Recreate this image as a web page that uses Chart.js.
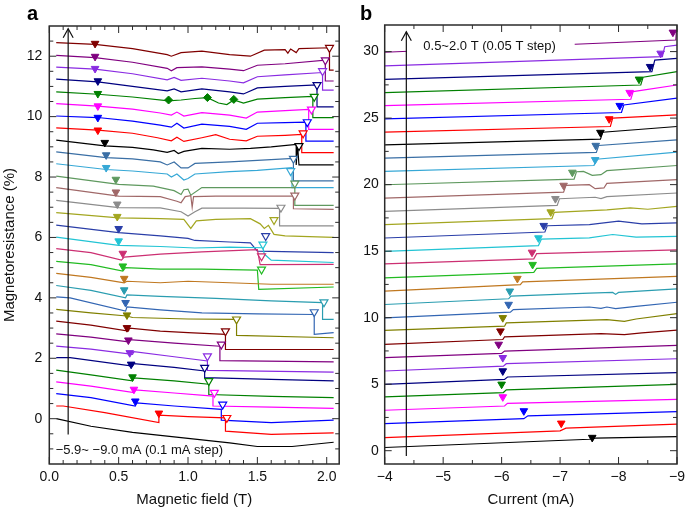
<!DOCTYPE html>
<html>
<head>
<meta charset="utf-8">
<script src="https://cdn.jsdelivr.net/npm/chart.js@4.4.1/dist/chart.umd.min.js"></script>
<style>
  body { margin: 0; background: #fff; width: 685px; height: 508px; overflow: hidden; position: relative; }
  canvas { position: absolute; top: 0; }
  #chartA { left: 0; }
  #chartB { left: 345px; }
</style>
</head>
<body>
<canvas id="chartA" width="345" height="508"></canvas>
<canvas id="chartB" width="340" height="508"></canvas>
<script>
// colour order used for the curves (repeats after 23)
var palette = ['#000000', '#ff0000', '#0000ff', '#ff00ff', '#008000', '#000080', '#8a2be2', '#800080',
  '#800000', '#808000', '#3366b3', '#2a9db0', '#c07820', '#22bb22', '#cc2f72', '#22c4d4', '#2a3ea8',
  '#a3a620', '#8c8c8c', '#a06868', '#5f995f', '#36a8d6', '#3a6fa5'];

// ---- panel a: field sweeps, -5.9 ... -9.0 mA, curves offset by 0.4 %
var fieldTicksA = [0, 0.5, 1, 1.5, 2];
var fieldMinorA = [0.1, 0.2, 0.3, 0.4, 0.6, 0.7, 0.8, 0.9, 1.1, 1.2, 1.3, 1.4, 1.6, 1.7, 1.8, 1.9];
var mrTicksA = [0, 2, 4, 6, 8, 10, 12];
var mrMinorA = [-1, -0.5, 0.5, 1, 1.5, 2.5, 3, 3.5, 4.5, 5, 5.5, 6.5, 7, 7.5, 8.5, 9, 9.5, 10.5, 11, 11.5, 12.5];

var curvesA = [
  [[0.05,0.0],[0.3,-0.25],[0.6,-0.45],[1.0,-0.65],[1.3,-0.8],[1.5,-0.92],[1.75,-0.92],[2.05,-0.78]],
  [[0.05,0.42],[0.1,0.42],[0.4,0.2],[0.79,-0.13],[0.79,0.12],[1.0,0.07],[1.27,0.03],[1.27,-0.41],[1.6,-0.52],[2.05,-0.47]],
  [[0.05,0.83],[0.3,0.7],[0.62,0.42],[0.63,0.52],[0.9,0.42],[1.24,0.31],[1.24,-0.05],[1.6,-0.13],[2.05,-0.05]],
  [[0.05,1.22],[0.3,1.08],[0.61,0.86],[0.62,0.95],[0.9,0.85],[1.18,0.75],[1.18,0.42],[1.6,0.38],[2.05,0.34]],
  [[0.05,1.61],[0.3,1.45],[0.6,1.25],[0.61,1.35],[0.9,1.25],[1.15,1.14],[1.15,0.8],[1.6,0.74],[2.05,0.7]],
  [[0.05,2.02],[0.15,2.02],[0.6,1.74],[0.61,1.82],[0.9,1.7],[1.12,1.58],[1.12,1.36],[1.6,1.3],[2.05,1.25]],
  [[0.05,2.4],[0.3,2.3],[0.6,2.13],[0.61,2.22],[0.9,2.05],[1.14,1.91],[1.14,1.6],[2.05,1.54]],
  [[0.05,2.81],[0.3,2.7],[0.57,2.54],[0.58,2.62],[0.9,2.5],[1.23,2.4],[1.23,1.92],[2.05,1.88]],
  [[0.05,3.23],[0.3,3.1],[0.57,2.9],[0.58,3.0],[0.8,2.9],[1.0,2.85],[1.27,2.79],[1.27,2.29],[2.05,2.29]],
  [[0.05,3.62],[0.3,3.5],[0.56,3.4],[0.6,3.35],[1.0,3.3],[1.35,3.29],[1.35,2.76],[2.05,2.68]],
  [[0.05,4.03],[0.15,4.0],[0.55,3.56],[0.56,3.7],[0.8,3.6],[1.1,3.5],[1.5,3.47],[1.91,3.45],[1.91,2.79],[2.05,2.85]],
  [[0.05,4.41],[0.3,4.25],[0.55,4.0],[0.56,4.1],[0.8,4.05],[1.2,3.98],[1.6,3.9],[1.97,3.84],[1.97,3.29],[2.05,3.29]],
  [[0.05,4.81],[0.3,4.68],[0.54,4.5],[0.56,4.55],[0.8,4.5],[1.0,4.55],[1.3,4.5],[1.6,4.45],[2.05,4.45]],
  [[0.05,5.21],[0.3,5.1],[0.53,4.89],[0.55,5.0],[0.8,4.95],[1.1,4.95],[1.5,4.92],[1.51,4.28],[2.05,4.36]],
  [[0.05,5.63],[0.3,5.5],[0.52,5.25],[0.54,5.35],[0.8,5.45],[1.1,5.52],[1.5,5.6],[1.52,5.1],[2.05,5.11]],
  [[0.05,6.01],[0.5,5.74],[0.8,5.7],[1.05,5.65],[1.3,5.68],[1.54,5.66],[1.55,5.45],[1.6,5.25],[2.05,5.17]],
  [[0.05,6.41],[0.5,6.16],[0.8,6.05],[1.0,5.97],[1.05,5.9],[1.3,5.85],[1.45,5.82],[1.5,5.55],[2.05,5.5]],
  [[0.05,6.82],[0.5,6.65],[0.8,6.62],[0.97,6.6],[1.02,6.3],[1.06,6.55],[1.2,6.6],[1.45,6.62],[1.52,6.45],[1.55,6.3],[1.58,6.4],[1.62,6.1],[1.7,6.05],[2.05,6.0]],
  [[0.05,7.23],[0.5,6.99],[0.8,6.98],[0.95,6.85],[1.0,6.71],[1.05,6.85],[1.1,6.97],[1.4,6.97],[1.66,6.96],[1.66,6.38],[2.05,6.38]],
  [[0.05,7.65],[0.5,7.37],[0.8,7.35],[0.92,7.2],[0.95,7.15],[0.98,7.35],[1.02,7.38],[1.03,7.0],[1.04,7.35],[1.2,7.37],[1.5,7.37],[1.76,7.37],[1.76,6.95],[2.05,6.93]],
  [[0.05,8.03],[0.5,7.76],[0.75,7.7],[0.9,7.55],[0.95,7.42],[0.97,7.58],[1.0,7.6],[1.02,7.4],[1.1,7.65],[1.5,7.65],[1.77,7.65],[1.77,7.06],[2.05,7.06]],
  [[0.05,8.44],[0.41,8.25],[0.6,8.2],[0.85,8.1],[0.88,8.0],[0.92,8.1],[0.97,7.9],[1.0,7.95],[1.05,8.1],[1.3,8.18],[1.5,8.22],[1.75,8.31],[1.75,7.65],[2.05,7.65]],
  [[0.05,8.83],[0.41,8.64],[0.6,8.6],[0.8,8.5],[0.85,8.4],[0.9,8.5],[0.95,8.3],[1.0,8.3],[1.05,8.45],[1.3,8.5],[1.5,8.55],[1.76,8.62],[1.76,7.87],[2.05,7.87]],
  [[0.05,9.22],[0.4,9.03],[0.6,8.98],[0.75,8.9],[0.85,8.82],[0.9,8.88],[0.93,8.78],[0.97,8.85],[1.1,8.95],[1.3,8.92],[1.45,8.95],[1.6,9.0],[1.78,9.08],[1.78,8.4],[1.79,9.05],[1.8,8.4],[2.05,8.4]],
  [[0.05,9.63],[0.35,9.55],[0.6,9.45],[0.78,9.3],[0.88,9.2],[0.92,9.32],[0.97,9.18],[1.1,9.3],[1.2,9.4],[1.3,9.25],[1.42,9.2],[1.5,9.35],[1.7,9.38],[1.82,9.41],[1.82,8.81],[2.05,8.81]],
  [[0.05,10.02],[0.35,9.97],[0.6,9.85],[0.8,9.72],[0.88,9.65],[0.92,9.78],[0.97,9.62],[1.1,9.75],[1.3,9.68],[1.42,9.58],[1.5,9.78],[1.7,9.8],[1.85,9.82],[1.85,9.19],[2.05,9.19]],
  [[0.05,10.43],[0.35,10.35],[0.6,10.25],[0.8,10.12],[0.88,10.05],[0.92,10.15],[0.97,10.02],[1.1,10.13],[1.3,10.05],[1.42,9.95],[1.5,10.15],[1.7,10.2],[1.87,10.24],[1.87,9.58],[2.05,9.58]],
  [[0.05,10.82],[0.35,10.74],[0.6,10.65],[0.86,10.52],[0.95,10.55],[1.05,10.6],[1.14,10.63],[1.22,10.45],[1.28,10.4],[1.33,10.55],[1.4,10.45],[1.5,10.58],[1.7,10.63],[1.9,10.67],[1.9,9.97],[2.05,9.97]],
  [[0.05,11.24],[0.35,11.15],[0.6,11.0],[0.85,10.85],[0.9,10.92],[0.95,10.82],[1.1,10.92],[1.3,10.82],[1.4,10.75],[1.5,10.95],[1.7,11.0],[1.93,11.05],[1.93,10.32],[2.05,10.32]],
  [[0.05,11.64],[0.33,11.57],[0.6,11.42],[0.85,11.22],[0.9,11.3],[0.95,11.2],[1.1,11.27],[1.3,11.18],[1.4,11.12],[1.5,11.32],[1.7,11.38],[1.97,11.46],[1.97,10.88],[2.05,10.88]],
  [[0.05,12.03],[0.33,11.95],[0.6,11.8],[0.85,11.6],[0.88,11.52],[0.92,11.62],[1.1,11.65],[1.3,11.57],[1.4,11.52],[1.5,11.7],[1.7,11.75],[1.99,11.87],[1.99,11.18],[2.05,11.18]],
  [[0.05,12.45],[0.33,12.39],[0.6,12.25],[0.85,12.05],[0.88,12.0],[0.95,12.12],[1.1,12.17],[1.3,12.05],[1.45,12.0],[1.55,12.2],[1.7,12.22],[1.72,12.1],[1.74,12.24],[1.78,12.12],[1.8,12.25],[2.02,12.28],[2.02,11.54],[2.05,11.54]]
];
// filled / open triangle markers, one per curve (null = none)
var fillTriA = [null,[0.79,0.18],[0.62,0.58],[0.61,0.97],[0.6,1.38],[0.59,1.8],[0.58,2.18],[0.57,2.6],[0.56,3.01],
  [0.56,3.43],[0.55,3.84],[0.54,4.26],[0.54,4.64],[0.53,5.05],[0.53,5.47],[0.5,5.88],[0.5,6.29],[0.49,6.69],
  [0.49,7.1],[0.48,7.5],[0.48,7.92],[0.41,8.31],[0.41,8.73],[0.4,9.14],[0.35,9.55],[0.35,9.97],[0.35,10.35],
  [0.35,10.76],[0.35,11.18],[0.33,11.59],[0.33,11.99],[0.33,12.42]];
var openTriA = [null,[1.28,0.03],[1.25,0.47],[1.19,0.86],[1.15,1.25],[1.12,1.69],[1.14,2.07],[1.24,2.46],[1.27,2.9],
  [1.35,3.29],[1.91,3.53],[1.98,3.86],null,[1.53,4.94],[1.53,5.38],[1.54,5.77],[1.56,6.05],[1.62,6.58],
  [1.67,6.99],[1.77,7.39],[1.77,7.79],[1.74,8.2],[1.76,8.61],[1.8,9.03],[1.83,9.45],[1.86,9.82],[1.89,10.24],
  [1.91,10.66],[1.93,11.05],[1.97,11.51],[1.99,11.87],[2.02,12.28]];
var diamondsA = [[0.86,10.55],[1.14,10.63],[1.33,10.57]];

// ---- panel b: current sweeps, 0.5 ... 2.0 T, curves offset by 1 %
var currentTicksB = [-9, -8, -7, -6, -5, -4];
var currentMinorB = [-8.5, -7.5, -6.5, -5.5, -4.5];
var mrTicksB = [0, 5, 10, 15, 20, 25, 30];
var mrMinorB = [2.5, 7.5, 12.5, 17.5, 22.5, 27.5];

var curvesB = [
  [[-4,0.24],[-7.5,0.86],[-7.6,0.95],[-9,1.06]],
  [[-4,0.99],[-7.0,1.49],[-7.1,1.69],[-9,1.99]],
  [[-4,2.04],[-6.38,2.41],[-6.45,2.62],[-9,2.94]],
  [[-4,3.04],[-6.05,3.36],[-6.1,3.56],[-9,3.86]],
  [[-4,4.04],[-6.03,4.37],[-6.08,4.57],[-9,4.99]],
  [[-4,4.99],[-6.05,5.36],[-6.1,5.54],[-9,5.87]],
  [[-4,5.99],[-6.03,6.36],[-6.08,6.54],[-9,6.91]],
  [[-4,6.99],[-6.0,7.31],[-6.05,7.49],[-9,7.91]],
  [[-4,7.99],[-6.02,8.36],[-6.05,8.56],[-7.7,8.8],[-8.1,8.72],[-8.4,8.85],[-9,9.06]],
  [[-4,9.04],[-6.05,9.36],[-6.08,9.61],[-7.8,9.85],[-8.1,9.72],[-8.3,9.9],[-9,10.31]],
  [[-4,9.99],[-6.15,10.41],[-6.2,10.61],[-7.5,10.8],[-7.7,10.7],[-7.8,10.8],[-7.95,10.68],[-8.3,10.85],[-9,11.16]],
  [[-4,10.99],[-6.12,11.42],[-6.16,11.62],[-7.5,11.85],[-7.9,11.9],[-7.95,11.75],[-8.0,11.9],[-9,12.17]],
  [[-4,11.99],[-6.32,12.49],[-6.36,12.69],[-9,13.11]],
  [[-4,12.99],[-6.55,13.41],[-6.6,13.71],[-9,14.04]],
  [[-4,14.04],[-6.55,14.42],[-6.6,14.81],[-9,15.1]],
  [[-4,14.99],[-6.63,15.42],[-6.68,15.9],[-7.5,16.0],[-7.9,16.25],[-8.3,16.05],[-9,16.11]],
  [[-4,15.99],[-6.74,16.44],[-6.78,16.91],[-7.5,17.0],[-8.0,17.25],[-8.4,17.05],[-9,17.12]],
  [[-4,16.99],[-6.86,17.44],[-6.9,17.91],[-7.8,18.1],[-8.2,18.25],[-8.5,18.15],[-9,18.36]],
  [[-4,17.99],[-6.95,18.44],[-6.99,18.94],[-7.6,19.05],[-7.7,18.95],[-7.8,19.1],[-9,19.37]],
  [[-4,18.99],[-7.06,19.44],[-7.1,19.94],[-7.5,20.0],[-7.6,19.7],[-7.75,19.75],[-7.8,20.1],[-9,20.37]],
  [[-4,19.99],[-7.24,20.42],[-7.28,20.97],[-7.4,21.0],[-7.55,20.7],[-7.7,20.75],[-7.8,21.05],[-9,21.44]],
  [[-4,20.99],[-7.58,21.44],[-7.62,21.91],[-9,22.44]],
  [[-4,21.99],[-7.62,22.42],[-7.66,22.94],[-9,23.37]],
  [[-4,22.99],[-7.69,23.42],[-7.73,23.94],[-9,24.37]],
  [[-4,23.94],[-7.86,24.37],[-7.9,25.0],[-9,25.24]],
  [[-4,24.94],[-8.05,25.42],[-8.09,25.99],[-9,26.5]],
  [[-4,25.94],[-8.21,26.42],[-8.25,26.99],[-9,27.49]],
  [[-4,26.92],[-8.38,27.49],[-8.42,28.07],[-9,28.49]],
  [[-4,27.92],[-8.57,28.49],[-8.62,29.36],[-9,29.49]],
  [[-4,28.92],[-8.75,29.62],[-8.79,30.37],[-9,30.49]],
  [[-4,29.95],[-8.98,30.87],[-8.99,31.57]]
];
var fillTriB = [[-7.55,0.99],[-7.02,2.06],[-6.38,2.99],[-6.02,4.04],[-6.0,4.99],[-6.02,5.99],[-6.02,6.99],
  [-5.95,7.99],[-5.98,8.99],[-6.02,9.99],[-6.12,10.99],[-6.14,11.99],[-6.27,12.94],[-6.53,13.99],[-6.52,14.91],
  [-6.63,15.99],[-6.72,16.92],[-6.84,17.94],[-6.92,18.94],[-7.06,19.94],[-7.21,20.92],[-7.6,21.87],[-7.61,22.94],
  [-7.69,23.92],[-7.84,24.94],[-8.02,25.94],[-8.19,26.92],[-8.35,27.92],[-8.54,28.87],[-8.72,29.87],[-8.93,31.45]];

function toPts(list) {
  return list.map(function (p) { return { x: p[0], y: p[1] }; });
}

function makeDatasets(curves, fills, opens, diamonds) {
  var ds = [];
  var fp = [], fc = [], op = [], oc = [];
  fills.forEach(function (p, i) {
    if (p) { fp.push({ x: p[0], y: p[1] }); fc.push(palette[i % palette.length]); }
  });
  (opens || []).forEach(function (p, i) {
    if (p) { op.push({ x: p[0], y: p[1] }); oc.push(palette[i % palette.length]); }
  });
  // markers first so they end up drawn on top of the curves
  if (diamonds) {
    ds.push({ data: toPts(diamonds), showLine: false, pointStyle: 'rectRot', pointRadius: 4,
      pointBackgroundColor: palette[4], pointBorderColor: palette[4], pointBorderWidth: 1 });
  }
  ds.push({ data: fp, showLine: false, pointStyle: 'triangle', pointRotation: 180, pointRadius: 4.4,
    pointBackgroundColor: fc, pointBorderColor: fc, pointBorderWidth: 1 });
  if (op.length) {
    ds.push({ data: op, showLine: false, pointStyle: 'triangle', pointRotation: 180, pointRadius: 4.6,
      pointBackgroundColor: '#ffffff', pointBorderColor: oc, pointBorderWidth: 1.2 });
  }
  curves.forEach(function (c, i) {
    ds.push({ data: toPts(c), showLine: true, borderColor: palette[i % palette.length], borderWidth: 1.2,
      pointRadius: 0, tension: 0, fill: false });
  });
  return ds;
}

// frame with inward ticks on all four sides, arrow, note and panel letter
function decorations(cfg) {
  return {
    id: 'decor',
    afterDatasetsDraw: function (chart) {
      var ctx = chart.ctx, a = chart.chartArea, sx = chart.scales.x, sy = chart.scales.y;
      ctx.save();
      function line(x0, y0, x1, y1) { ctx.beginPath(); ctx.moveTo(x0, y0); ctx.lineTo(x1, y1); ctx.stroke(); }

      if (cfg.noteBox) {
        var b = cfg.noteBox;
        var bx0 = sx.getPixelForValue(b[0]), bx1 = sx.getPixelForValue(b[1]);
        var by0 = sy.getPixelForValue(b[2]), by1 = sy.getPixelForValue(b[3]);
        ctx.fillStyle = '#ffffff';
        ctx.fillRect(Math.min(bx0, bx1), Math.min(by0, by1), Math.abs(bx1 - bx0), Math.abs(by1 - by0));
      }
      ctx.fillStyle = '#111';
      ctx.font = "13px 'Liberation Sans', Arial, sans-serif";
      ctx.textAlign = 'left';
      ctx.textBaseline = 'middle';
      ctx.fillText(cfg.note.text, sx.getPixelForValue(cfg.note.x), sy.getPixelForValue(cfg.note.y));

      // arrow
      ctx.strokeStyle = '#111';
      ctx.lineWidth = 1.2;
      var ax = sx.getPixelForValue(cfg.arrow.x);
      var ay0 = sy.getPixelForValue(cfg.arrow.y0), ay1 = sy.getPixelForValue(cfg.arrow.y1);
      line(ax, ay0, ax, ay1);
      ctx.beginPath();
      ctx.moveTo(ax - 5, ay1 + 9); ctx.lineTo(ax, ay1); ctx.lineTo(ax + 5, ay1 + 9);
      ctx.stroke();

      // frame and ticks
      ctx.strokeStyle = '#2b2b2b';
      ctx.lineWidth = 1;
      function xt(list, len) {
        list.forEach(function (v) {
          var p = sx.getPixelForValue(v);
          line(p, a.bottom, p, a.bottom - len);
          line(p, a.top, p, a.top + len);
        });
      }
      function yt(list, len) {
        list.forEach(function (v) {
          var p = sy.getPixelForValue(v);
          line(a.left, p, a.left + len, p);
          line(a.right, p, a.right - len, p);
        });
      }
      xt(cfg.xMajor, 7); xt(cfg.xMinor, 4);
      yt(cfg.yMajor, 7); yt(cfg.yMinor, 4);
      ctx.lineWidth = 1.5;
      ctx.strokeRect(a.left, a.top, a.right - a.left, a.bottom - a.top);

      ctx.fillStyle = '#000';
      ctx.font = "bold 20px 'Liberation Sans', Arial, sans-serif";
      ctx.textBaseline = 'alphabetic';
      ctx.fillText(cfg.letter, cfg.letterX, 19.5);
      ctx.restore();
    }
  };
}

Chart.defaults.font.family = "'Liberation Sans', Arial, Helvetica, sans-serif";
Chart.defaults.color = '#111';

function axisX(min, max, ticks, fmt, title, reverse) {
  return {
    type: 'linear', min: min, max: max, reverse: !!reverse,
    border: { display: false }, grid: { display: false, drawTicks: false },
    afterBuildTicks: function (s) { s.ticks = ticks.map(function (v) { return { value: v }; }); },
    afterFit: function (s) { s.height = 44; },
    ticks: { padding: 5, font: { size: 14 }, color: '#111', maxRotation: 0, autoSkip: false, callback: fmt },
    title: { display: true, text: title, font: { size: 15 }, color: '#111', padding: { top: 0, bottom: -1 } }
  };
}
function axisY(min, max, ticks, width, pad, title) {
  return {
    type: 'linear', min: min, max: max,
    border: { display: false }, grid: { display: false, drawTicks: false },
    afterBuildTicks: function (s) { s.ticks = ticks.map(function (v) { return { value: v }; }); },
    afterFit: function (s) { s.width = width; },
    ticks: { padding: pad, font: { size: 14 }, color: '#111', autoSkip: false, callback: function (v) { return String(v); } },
    title: { display: !!title, text: title || '', font: { size: 15 }, color: '#111', padding: { top: 1, bottom: 0 } }
  };
}
function minus(v) { return v < 0 ? '\u2212' + Math.abs(v) : String(v); }

new Chart(document.getElementById('chartA'), {
  type: 'scatter',
  data: { datasets: makeDatasets(curvesA, fillTriA, openTriA, diamondsA) },
  options: {
    responsive: false, animation: false, events: [],
    layout: { padding: { left: 0, right: 3, top: 26, bottom: 0 } },
    plugins: { legend: { display: false }, tooltip: { enabled: false } },
    scales: {
      x: axisX(0, 2.09, fieldTicksA, function (v) { return v.toFixed(1); }, 'Magnetic field (T)'),
      y: axisY(-1.5, 13, mrTicksA, 49.3, 7, 'Magnetoresistance (%)')
    }
  },
  plugins: [decorations({
    xMajor: fieldTicksA, xMinor: fieldMinorA, yMajor: mrTicksA, yMinor: mrMinorA,
    arrow: { x: 0.136, y0: -0.52, y1: 12.91 },
    note: { text: '\u22125.9~ \u22129.0 mA (0.1 mA step)', x: 0.046, y: -1.05 },
    letter: 'a', letterX: 27
  })]
});

new Chart(document.getElementById('chartB'), {
  type: 'scatter',
  data: { datasets: makeDatasets(curvesB, fillTriB, null, null) },
  options: {
    responsive: false, animation: false, events: [],
    layout: { padding: { left: 0, right: 8, top: 25, bottom: 0 } },
    plugins: { legend: { display: false }, tooltip: { enabled: false } },
    scales: {
      x: axisX(-9, -4, currentTicksB, minus, 'Current (mA)', true),
      y: axisY(-1, 32, mrTicksB, 39.7, 6, null)
    }
  },
  plugins: [decorations({
    xMajor: currentTicksB, xMinor: currentMinorB, yMajor: mrTicksB, yMinor: mrMinorB,
    arrow: { x: -4.37, y0: -0.39, y1: 31.49 },
    note: { text: '0.5~2.0 T (0.05 T step)', x: -4.66, y: 30.37 },
    noteBox: [-4.38, -7.25, 31.0, 29.67],
    letter: 'b', letterX: 15
  })]
});
</script>
</body>
</html>
